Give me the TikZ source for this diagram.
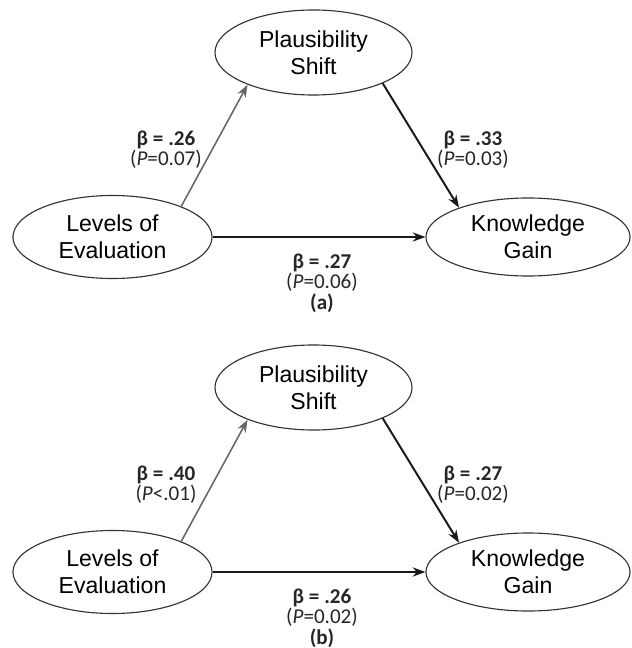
\documentclass[tikz,border=0pt]{standalone}
\usepackage{fontspec}
\setmainfont{Carlito}
\newfontfamily\boxfont{Liberation Sans}
\usetikzlibrary{arrows.meta,shapes.geometric}
\tikzset{
  var/.style={ellipse,draw=black!80,line width=0.8pt,inner sep=0pt,align=center,
    font=\boxfont\fontsize{16.4}{19.5}\selectfont},
  coef/.style={align=center,inner sep=0pt,text=black!85,font=\fontsize{15}{14.2}\selectfont},
  tag/.style={inner sep=0pt,text=black!85,font=\fontsize{15}{15}\selectfont\bfseries},
  grayarr/.style={->,draw=black!60,line width=1.1pt},
  blackarr/.style={->,draw=black!90,line width=1.4pt}
}
\begin{document}
\begin{tikzpicture}[x=0.025cm,y=-0.025cm,>={Stealth[length=9pt,width=6.5pt]}]
\useasboundingbox (0,0) rectangle (631,648);
\foreach \dy/\ba/\pa/\bb/\pb/\bc/\pc/\tg in {0/.26/=0.07/.33/=0.03/.27/=0.06/a,335/.40/<.01/.27/=0.02/.26/=0.02/b}{
% nodes
\node[var,minimum width=4.925cm,minimum height=2.125cm] (pla\tg) at (313.5,52.5+\dy) {Plausibility\\Shift};
\node[var,minimum width=4.975cm,minimum height=2.075cm] (lev\tg) at (112.5,237+\dy) {Levels of\\Evaluation};
\node[var,minimum width=5.1cm,minimum height=1.95cm] (kno\tg) at (528,237+\dy) {Knowledge\\Gain};
% paths
\draw[grayarr] (lev\tg.24) -- (pla\tg.206);
\draw[blackarr] (pla\tg.-24) -- (kno\tg.157);
\draw[blackarr] (lev\tg.east) -- (kno\tg.west);
% coefficients
\node[coef] (c1\tg) at (166,150+\dy) {\textbf{β = \ba}\\(\textit{P}\pa)};
\node[coef] (c2\tg) at (473,150+\dy) {\textbf{β = \bb}\\(\textit{P}\pb)};
\node[coef] (c3\tg) at (322,273+\dy) {\textbf{β = \bc}\\(\textit{P}\pc)};
\node[tag] (t\tg) at (322,303+\dy) {(\tg)};
}
\end{tikzpicture}
\end{document}
